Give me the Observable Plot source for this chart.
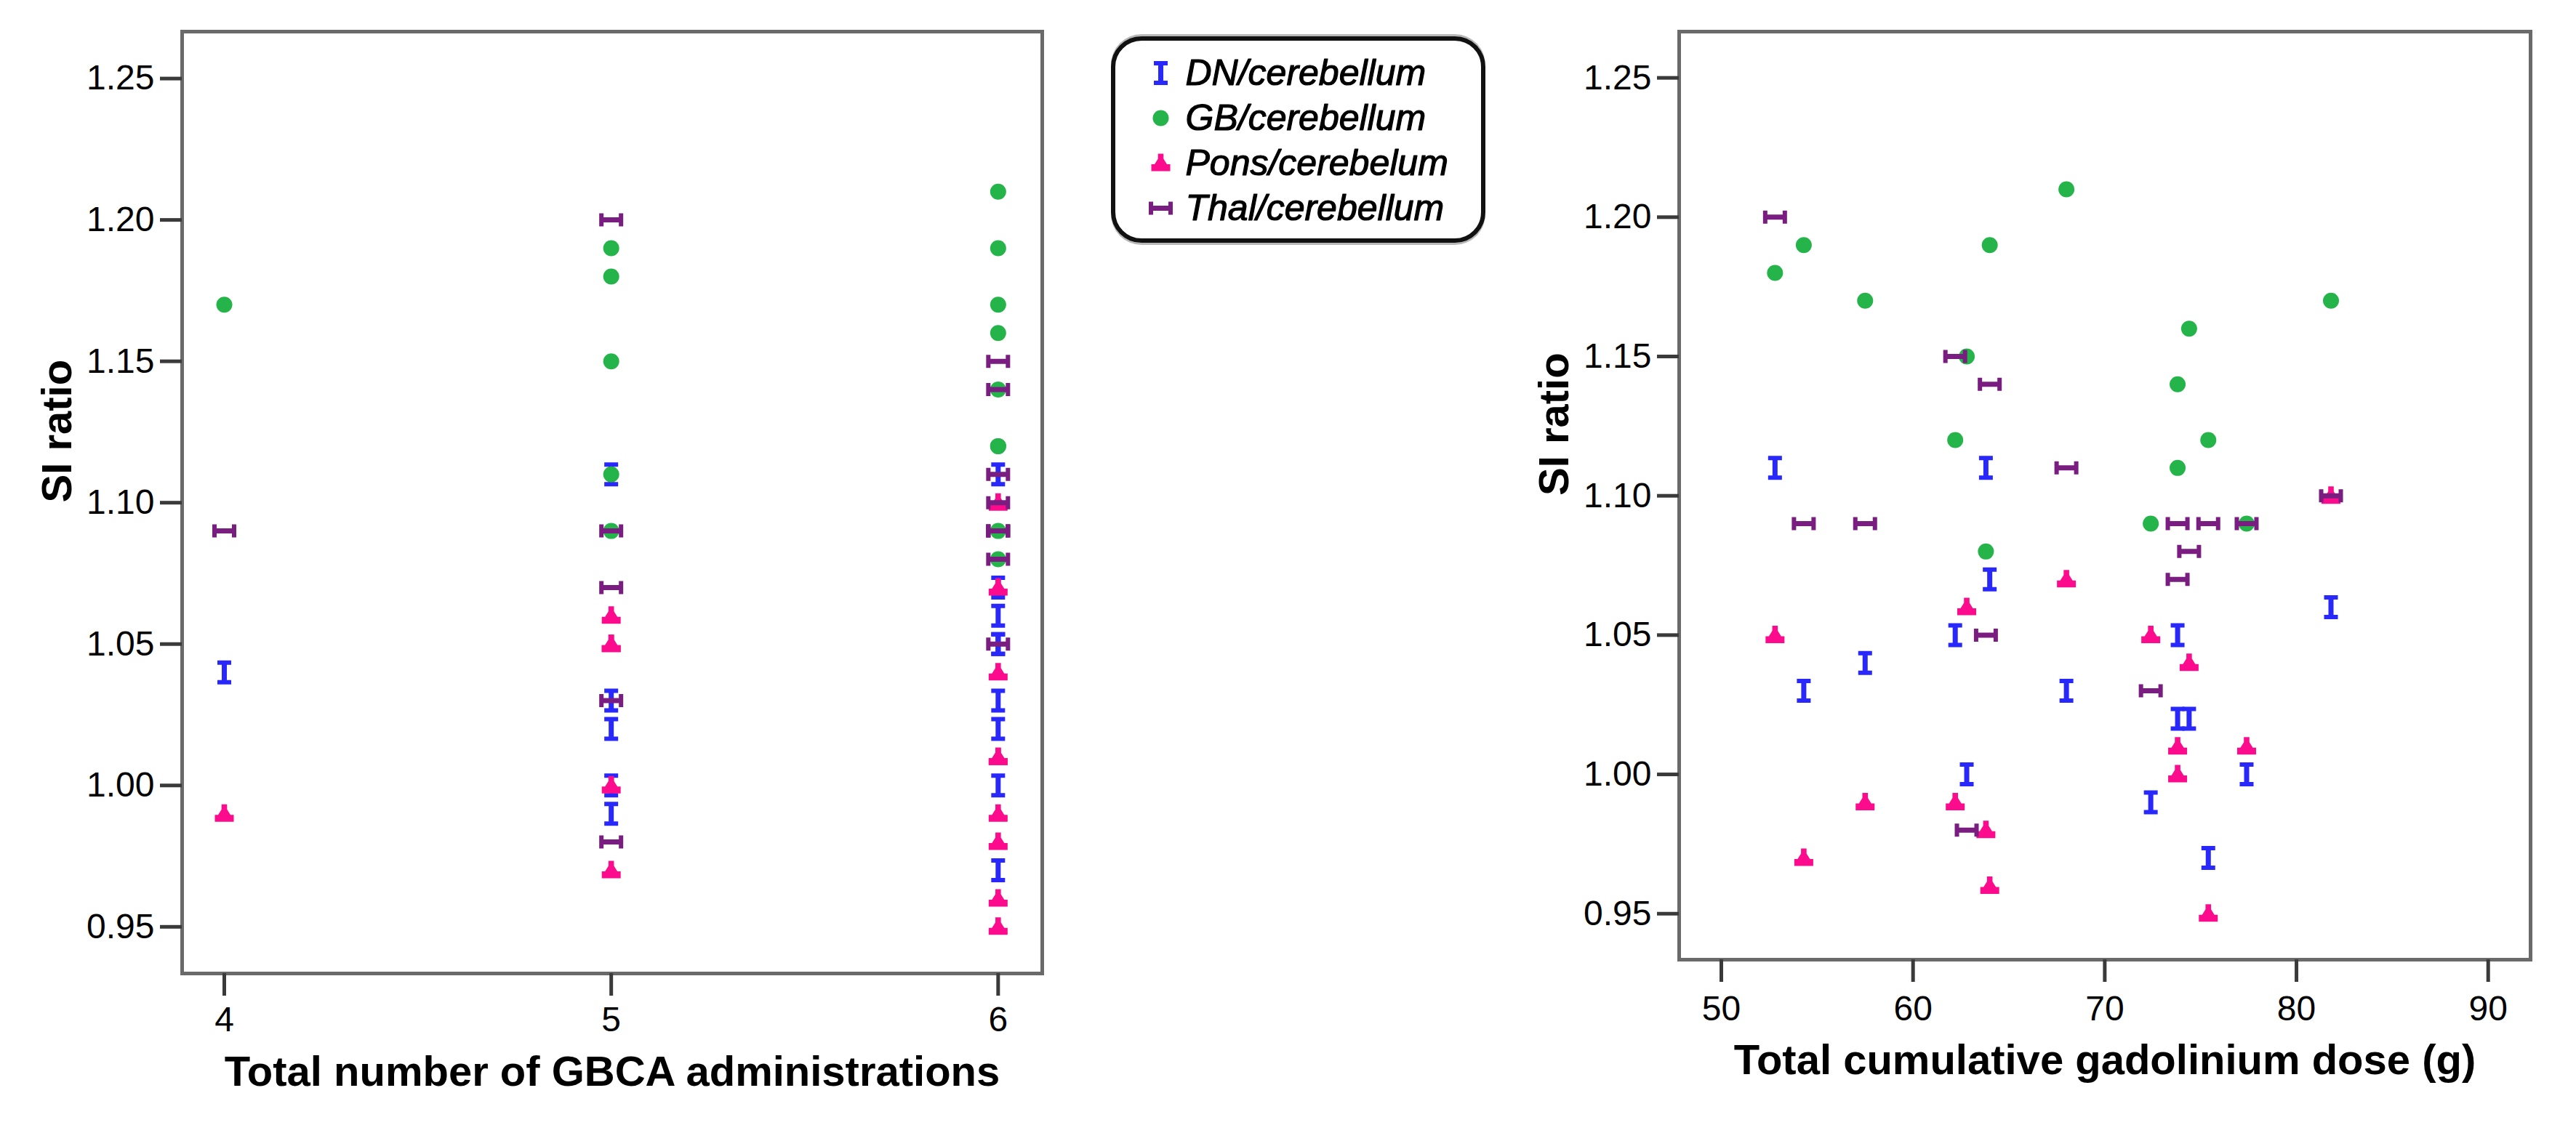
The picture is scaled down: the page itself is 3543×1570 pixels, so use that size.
<!DOCTYPE html>
<html>
<head>
<meta charset="utf-8">
<script src="https://cdn.jsdelivr.net/npm/d3@7"></script>
<script src="https://cdn.jsdelivr.net/npm/@observablehq/plot@0.6"></script>
<style>
  html, body { margin: 0; padding: 0; background: #fff; }
  #page { position: relative; width: 3543px; height: 1570px; overflow: hidden; background: #fff; font-family: "Liberation Sans", Arial, sans-serif; }
  .abs { position: absolute; }
  #legendBox { position: absolute; left: 1528px; top: 50px; width: 515px; height: 284px; box-sizing: border-box; border: 6px solid #111; border-radius: 42px; box-shadow: 0 -3px 0 #b8b8b8, 0 3px 0 #b8b8b8; background: #fff; }
</style>
</head>
<body>
<div id="page">
  <div id="left" class="abs" style="left:0;top:0"></div>
  <div id="right" class="abs" style="left:2050px;top:0"></div>
  <div id="legendBox"></div>
  <div id="legend" class="abs" style="left:1528px;top:50px;width:515px;height:284px"></div>
</div>
<script>
// ---- data (one entry per patient) ----
const seriesNames = ["DN/cerebellum", "GB/cerebellum", "Pons/cerebelum", "Thal/cerebellum"];
const seriesColors = ["#2828fa", "#24b449", "#fc0c8c", "#7a1d80"];
const doseG   = [52.8, 54.3, 57.5, 62.2, 62.8, 63.8, 64.0, 68.0, 72.4, 73.8, 73.8, 74.4, 75.4, 77.4, 81.8];
const nGBCA   = [5, 5, 4, 6, 5, 6, 6, 6, 5, 6, 5, 6, 6, 6, 6];
const dnSI    = [1.11, 1.03, 1.04, 1.05, 1.00, 1.11, 1.07, 1.03, 0.99, 1.05, 1.02, 1.02, 0.97, 1.00, 1.06];
const gbSI    = [1.18, 1.19, 1.17, 1.12, 1.15, 1.08, 1.19, 1.21, 1.09, 1.14, 1.11, 1.16, 1.12, 1.09, 1.17];
const ponsSI  = [1.05, 0.97, 0.99, 0.99, 1.06, 0.98, 0.96, 1.07, 1.05, 1.01, 1.00, 1.04, 0.95, 1.01, 1.10];
const thalSI  = [1.20, 1.09, 1.09, 1.15, 0.98, 1.05, 1.14, 1.11, 1.03, 1.09, 1.07, 1.08, 1.09, 1.09, 1.10];
const yTicks      = [0.95, 1.00, 1.05, 1.10, 1.15, 1.20, 1.25];
const xTicksLeft  = [4, 5, 6];
const xTicksRight = [50, 60, 70, 80, 90];
const xTitleLeft  = "Total number of GBCA administrations";
const xTitleRight = "Total cumulative gadolinium dose (g)";
const yTitle      = "SI ratio";

// ---- marker shapes (SPSS style) ----
function poly(ctx, pts) { ctx.moveTo(pts[0][0], pts[0][1]); for (let i = 1; i < pts.length; i++) ctx.lineTo(pts[i][0], pts[i][1]); ctx.closePath(); }
const symIbeam = { draw(ctx) { poly(ctx, [[-9.5,-16.5],[9.5,-16.5],[9.5,-10.5],[3.5,-10.5],[3.5,10.5],[9.5,10.5],[9.5,16.5],[-9.5,16.5],[-9.5,10.5],[-3.5,10.5],[-3.5,-10.5],[-9.5,-10.5]]); } };
const symHbeam = { draw(ctx) { poly(ctx, [[-16.5,-9],[-10.5,-9],[-10.5,-3.5],[10.5,-3.5],[10.5,-9],[16.5,-9],[16.5,9],[10.5,9],[10.5,3.5],[-10.5,3.5],[-10.5,9],[-16.5,9]]); } };
const symPons  = { draw(ctx) { poly(ctx, [[-3.8,-13],[3.8,-13],[3.8,-6],[8.5,1.5],[13,1.5],[13,11],[-13,11],[-13,1.5],[-8.5,1.5],[-3.8,-6]]); } };
const seriesSymbols = [symIbeam, "circle", symPons, symHbeam];
const seriesValues = [dnSI, gbSI, ponsSI, thalSI];

const series = seriesNames.map((name, k) => ({
  name, color: seriesColors[k], symbol: seriesSymbols[k],
  data: seriesValues[k].map((v, i) => ({ n: nGBCA[i], dose: doseG[i], si: v }))
}));

const fontFam = "'Liberation Sans', Arial, Helvetica, sans-serif";

function panel({xKey, xDomain, xTicks, xTitle, width, mLeft, mRight, mBottom, xPad, xTitleDy}) {
  return Plot.plot({
    width, height: 1570,
    marginLeft: mLeft, marginRight: mRight, marginTop: 43, marginBottom: mBottom,
    style: { fontFamily: fontFam, color: "black", background: "transparent", overflow: "visible" },
    x: { domain: xDomain, nice: false },
    y: { domain: [0.9335, 1.2666], nice: false },
    marks: [
      Plot.frame({ stroke: "#6a6a6a", strokeWidth: 5 }),
      Plot.axisY({ ticks: yTicks, tickFormat: d3.format(".2f"), tickSize: 30, tickPadding: 8, stroke: "#3a3a3a", strokeWidth: 5, fill: "black", fontSize: 48, label: null }),
      Plot.axisX({ ticks: xTicks, tickFormat: d3.format("d"), tickSize: 31, tickPadding: xPad, stroke: "#3a3a3a", strokeWidth: 5, fill: "black", fontSize: 48, label: null }),
      ...series.map(s => Plot.dot(s.data, { x: xKey, y: "si", symbol: s.symbol, fill: s.color, stroke: "none", r: 11 })),
      Plot.text([xTitle], { frameAnchor: "bottom", dy: xTitleDy, text: d => d, fontSize: 58, fontWeight: "bold", fill: "black" }),
      Plot.text([yTitle], { frameAnchor: "left", dx: -171, rotate: -90, text: d => d, fontSize: 58, fontWeight: "bold", fill: "black" })
    ]
  });
}

document.getElementById("left").appendChild(panel({
  xKey: "n", xDomain: [3.891, 6.114], xTicks: xTicksLeft, xTitle: xTitleLeft,
  width: 1480, mLeft: 250, mRight: 47, mBottom: 231, xPad: 14, xTitleDy: 154
}));
document.getElementById("right").appendChild(panel({
  xKey: "dose", xDomain: [47.80, 92.21], xTicks: xTicksRight, xTitle: xTitleRight,
  width: 1493, mLeft: 259, mRight: 63, mBottom: 250, xPad: 18, xTitleDy: 157
}));

// ---- legend ----
document.getElementById("legend").appendChild(Plot.plot({
  width: 515, height: 284, margin: 0,
  style: { fontFamily: fontFam, color: "black", background: "transparent", overflow: "visible" },
  y: { type: "point", domain: seriesNames, range: [50, 236], padding: 0, axis: null },
  marks: [
    ...series.map(s => Plot.dot([s.name], { y: d => d, frameAnchor: "left", dx: 68, symbol: s.symbol, fill: s.color, stroke: "none", r: 11 })),
    Plot.text(seriesNames, { y: d => d, frameAnchor: "left", dx: 102, text: d => d, textAnchor: "start", fontSize: 50, fontStyle: "italic", fill: "black", stroke: "black", strokeWidth: 1.2 })
  ]
}));
</script>
</body>
</html>
